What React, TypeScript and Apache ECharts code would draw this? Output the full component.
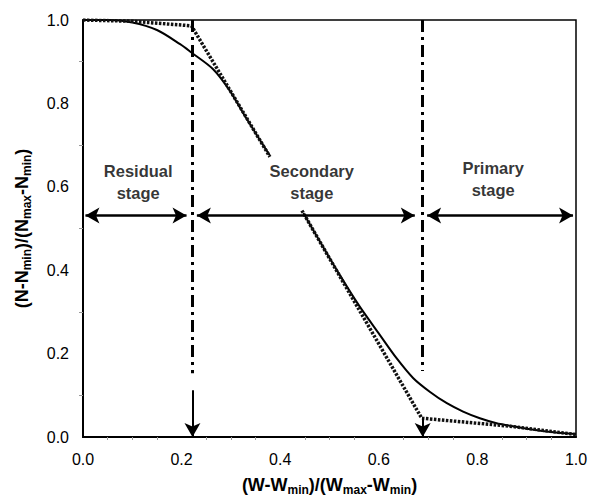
import React, { useEffect, useRef } from "react";
import * as echarts from "echarts";

const solidUpper: [number, number][] = [
  [0, 1], [0.05, 1], [0.1, 0.994], [0.15, 0.976], [0.197, 0.942], [0.22, 0.922],
  [0.264, 0.882], [0.298, 0.83], [0.332, 0.763], [0.379, 0.675],
];
const solidLower: [number, number][] = [
  [0.447, 0.537], [0.48, 0.47], [0.52, 0.39], [0.56, 0.315], [0.602, 0.245],
  [0.636, 0.189], [0.67, 0.141], [0.704, 0.108], [0.738, 0.081], [0.771, 0.061],
  [0.805, 0.045], [0.839, 0.033], [0.866, 0.027], [0.9, 0.02], [0.95, 0.012], [1.0, 0.007],
];
const dottedUpper: [number, number][] = [
  [0, 1], [0.1, 0.997], [0.22, 0.986], [0.379, 0.672],
];
const dottedLower: [number, number][] = [
  [0.444, 0.543], [0.687, 0.045], [0.866, 0.026], [1.0, 0.006],
];
const stageBounds = [0.222, 0.689];
const dashTopY = 1.0;
const dashBottomY = [0.153, 0.158];
const downArrowTopY = [0.112, 0.045];
const arrowY = 0.531;
const stageArrows: [number, number][] = [
  [0.005, 0.21],
  [0.231, 0.673],
  [0.698, 0.994],
];
const stageLabels = ["Residual\nstage", "Secondary\nstage", "Primary\nstage"];
const stageLabelPos: [number, number][] = [
  [0.112, 0.611],
  [0.464, 0.611],
  [0.832, 0.618],
];

const FONT = "Liberation Sans, Arial, sans-serif";

export default function App() {
  const ref = useRef<HTMLDivElement>(null);
  useEffect(() => {
    if (!ref.current) return;
    const chart = echarts.init(ref.current, undefined, { renderer: "svg" });
    const rich = {
      b: { fontFamily: FONT, fontWeight: "bold", fontSize: 18, color: "#000" },
      s: { fontFamily: FONT, fontWeight: "bold", fontSize: 12, color: "#000", padding: [11, 0, 0, 0] },
    };
    const arrowLines: any[] = stageArrows.map(([a, b]) => [
      { coord: [a, arrowY] },
      { coord: [b, arrowY] },
    ]);
    const dashLines: any[] = stageBounds.map((x, i) => [
      { coord: [x, dashTopY] },
      { coord: [x, dashBottomY[i]] },
    ]);
    const downArrows: any[] = stageBounds.map((x, i) => [
      { coord: [x, downArrowTopY[i]] },
      { coord: [x, 0] },
    ]);
    chart.setOption({
      animation: false,
      backgroundColor: "#fff",
      grid: { left: 83, right: 22, top: 20, bottom: 62, show: true, borderColor: "#000", borderWidth: 1.5 },
      xAxis: {
        type: "value",
        min: 0,
        max: 1,
        interval: 0.2,
        name: "{b|(W-W}{s|min}{b|)/(W}{s|max}{b|-W}{s|min}{b|)}",
        nameLocation: "middle",
        nameGap: 36,
        nameTextStyle: { rich },
        axisLine: { lineStyle: { color: "#000", width: 2 } },
        axisTick: { show: false },
        minorTick: { show: true, splitNumber: 4, length: 3, lineStyle: { color: "#999" } },
        splitLine: { show: false },
        axisLabel: {
          fontFamily: FONT, fontSize: 16, color: "#000", margin: 14,
          formatter: (v: number) => v.toFixed(1),
        },
      },
      yAxis: {
        type: "value",
        min: 0,
        max: 1,
        interval: 0.2,
        name: "{b|(N-N}{s|min}{b|)/(N}{s|max}{b|-N}{s|min}{b|)}",
        nameLocation: "middle",
        nameRotate: 90,
        nameGap: 50,
        nameTextStyle: { rich },
        axisLine: { lineStyle: { color: "#000", width: 2 } },
        axisTick: { show: false },
        minorTick: { show: true, splitNumber: 2, length: 4, lineStyle: { color: "#999" } },
        splitLine: { show: false },
        axisLabel: {
          fontFamily: FONT, fontSize: 16, color: "#000", margin: 14,
          formatter: (v: number) => v.toFixed(1),
        },
      },
      series: [
        {
          type: "line", data: solidUpper, showSymbol: false, smooth: 0.3,
          lineStyle: { color: "#000", width: 2 },
        },
        {
          type: "line", data: solidLower, showSymbol: false, smooth: 0.3,
          lineStyle: { color: "#000", width: 2 },
        },
        {
          type: "line", data: dottedUpper, showSymbol: false,
          lineStyle: { color: "#111", width: 3.5, type: [2.5, 1.5] },
        },
        {
          type: "line", data: dottedLower, showSymbol: false,
          lineStyle: { color: "#111", width: 3.5, type: [2.5, 1.5] },
        },
        {
          type: "scatter",
          data: stageLabelPos.map((p, i) => ({ value: p, name: stageLabels[i] })),
          symbolSize: 0,
          label: {
            show: true,
            position: "inside",
            formatter: (p: any) => p.name,
            fontFamily: FONT, fontWeight: "bold", fontSize: 16.5, color: "#000",
            lineHeight: 22, align: "center", verticalAlign: "middle",
          },
          silent: true,
          z: 5,
        },
        {
          type: "line",
          data: [],
          markLine: {
            silent: true,
            symbol: ["none", "none"],
            label: { show: false },
            lineStyle: { color: "#000", width: 3, type: [12, 5, 3, 5] },
            data: dashLines,
          },
        },
        {
          type: "line",
          data: [],
          markLine: {
            silent: true,
            symbol: ["none", "arrow"],
            symbolSize: [12, 14],
            label: { show: false },
            lineStyle: { color: "#000", width: 2, type: "solid" },
            data: downArrows,
          },
        },
        {
          type: "line",
          data: [],
          markLine: {
            silent: true,
            symbol: ["arrow", "arrow"],
            symbolSize: [12, 14],
            label: { show: false },
            lineStyle: { color: "#000", width: 2.5, type: "solid" },
            data: arrowLines,
          },
        },
      ],
    });
    return () => chart.dispose();
  }, []);
  return <div ref={ref} style={{ width: 598, height: 501, position: "absolute", left: 0, top: 0 }} />;
}
